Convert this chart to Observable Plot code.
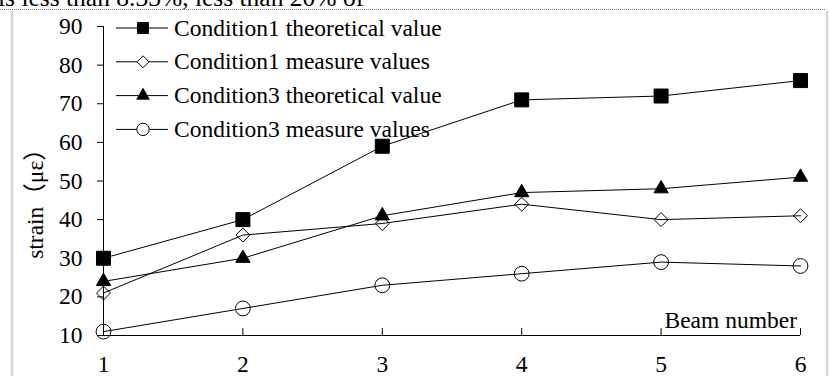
<!DOCTYPE html>
<html><head><meta charset="utf-8">
<script src="https://cdn.jsdelivr.net/npm/d3@7"></script>
<script src="https://cdn.jsdelivr.net/npm/@observablehq/plot@0.6"></script>
<style>
body{margin:0;background:#fff;}
#wrap{position:relative;width:829px;height:376px;overflow:hidden;background:#fff;font-family:"Liberation Serif","Times New Roman",serif;}
#wrap > svg{position:absolute;left:0;top:0;}
#wrap svg text{font-family:"Liberation Serif","Times New Roman","Noto Sans CJK SC",serif;}
</style></head><body><div id="wrap"></div>
<script>
// ---- data ----
const beams = [1, 2, 3, 4, 5, 6];
const seriesNames = ["Condition1 theoretical value", "Condition1 measure values", "Condition3 theoretical value", "Condition3 measure values"];
const c1Theory = [30, 40, 59, 71, 72, 76];
const c1Measured = [21, 36, 39, 44, 40, 41];
const c3Theory = [24, 30, 41, 47, 48, 51];
const c3Measured = [11, 17, 23, 26, 29, 28];
const yTicks = [10, 20, 30, 40, 50, 60, 70, 80, 90];
const xTicks = [1, 2, 3, 4, 5, 6];
const yLabel = "strain（με）";
const xLabel = "Beam number";
const topText = "is less than 8.33%, less than 20% of";

const allValues = [c1Theory, c1Measured, c3Theory, c3Measured];
const rows = [];
allValues.forEach((vals, s) => vals.forEach((v, i) => rows.push({series: seriesNames[s], beam: beams[i], value: v})));
const bySeries = name => rows.filter(d => d.series === name);

const symbols = ["square", "diamond2", "triangle", "circle"];
const fills = ["black", "none", "black", "none"];
const radii = [7.9, 6.3, 5.3, 7.4];

const W = 829, H = 376;
const font = '"Liberation Serif","Times New Roman","Noto Sans CJK SC",serif';
const FS = 23.5;

const chart = Plot.plot({
  width: W, height: H,
  marginLeft: 103, marginRight: 29, marginTop: 26, marginBottom: 41,
  style: {fontFamily: font, fontSize: FS + "px", color: "black", background: "transparent", overflow: "visible"},
  x: {domain: [1, 6]},
  y: {domain: [10, 90]},
  marks: [
    Plot.ruleX([1], {stroke: "black", strokeWidth: 1}),
    Plot.ruleY([10], {stroke: "black", strokeWidth: 1}),
    Plot.axisY({ticks: yTicks, tickSize: 6, tickPadding: 15, fontSize: FS, fontFamily: font, tickFormat: d3.format("d"), label: null}),
    Plot.axisX({ticks: xTicks.slice(1), tickSize: -7, text: null, label: null}),
    Plot.axisX({ticks: xTicks, tickSize: 0, tickPadding: 20, fontSize: FS, fontFamily: font, tickFormat: d3.format("d"), label: null}),
    Plot.line(rows, {x: "beam", y: "value", z: "series", stroke: "black", strokeWidth: 1}),
    ...seriesNames.map((name, s) => Plot.dot(bySeries(name), {
      x: "beam", y: "value", symbol: () => symbols[s], r: radii[s],
      fill: fills[s], stroke: "black", strokeWidth: 1
    }))
  ]
});
document.getElementById("wrap").appendChild(chart);

// ---- decorations, axis titles & legend overlay ----
const ov = d3.select("#wrap").append("svg").attr("width", W).attr("height", H)
  .style("font-family", font).style("font-size", FS + "px");
ov.append("text").attr("x", -2).attr("y", 6).style("font-size", "25.5px").text(topText);
ov.append("line").attr("x1", 0).attr("x2", 826).attr("y1", 9.5).attr("y2", 9.5)
  .attr("stroke", "#777").attr("stroke-dasharray", "1,1");
ov.append("line").attr("x1", 12).attr("x2", 12).attr("y1", 11).attr("y2", H)
  .attr("stroke", "#d6d6d6").attr("stroke-width", 2.5);
ov.append("line").attr("x1", 827).attr("x2", 827).attr("y1", 11).attr("y2", H)
  .attr("stroke", "#d6d6d6").attr("stroke-width", 2.5);

ov.append("text").attr("x", 797).attr("y", 328).attr("text-anchor", "end").text(xLabel);
ov.append("text").attr("transform", "translate(43,198) rotate(-90)").attr("text-anchor", "middle").text(yLabel);

const legSym = [d3.symbolSquare, d3.symbolDiamond2, d3.symbolTriangle, d3.symbolCircle];
const legR = [6.2, 5.4, 4.6, 6.2];
seriesNames.forEach((name, i) => {
  const y = 28 + i * 33.8;
  const g = ov.append("g");
  g.append("line").attr("x1", 116).attr("x2", 168).attr("y1", y).attr("y2", y).attr("stroke", "black");
  g.append("path").attr("transform", `translate(143,${y})`)
    .attr("d", d3.symbol(legSym[i], legR[i] * legR[i] * Math.PI)())
    .attr("fill", fills[i] === "none" ? "white" : "black").attr("stroke", "black");
  g.append("text").attr("x", 174).attr("y", y).attr("dy", "0.32em").text(name);
});
</script></body></html>
